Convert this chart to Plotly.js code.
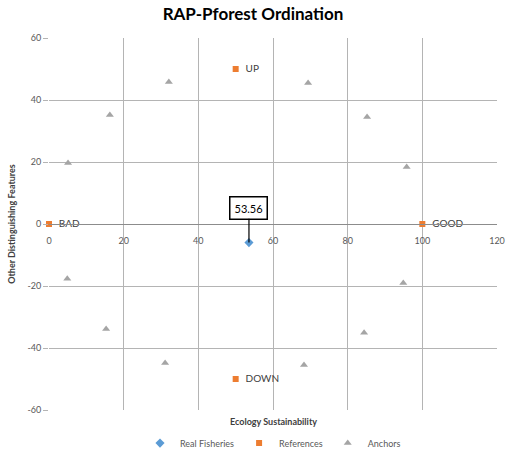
<!DOCTYPE html>
<html>
<head>
<meta charset="utf-8">
<script src="https://cdn.plot.ly/plotly-3.0.1.min.js"></script>
<style>html,body{margin:0;padding:0;background:#fff;}#chart{width:506px;height:454px;}</style>
</head>
<body>
<div id="chart"></div>
<script>
var realX = [53.56];
var realY = [-6];
var refX = [0, 100, 50, 50];
var refY = [0, 0, 50, -50];
var refLabels = ['BAD', 'GOOD', 'UP', 'DOWN'];
var anchorX = [32.1, 69.4, 16.3, 85.2, 5.1, 95.8, 4.9, 94.9, 15.3, 84.4, 31.1, 68.3];
var anchorY = [45.8, 45.5, 35.2, 34.5, 19.7, 18.4, -17.7, -19.0, -33.9, -35.1, -44.8, -45.5];
var xTicks = [0, 20, 40, 60, 80, 100, 120];
var yTicks = [-60, -40, -20, 0, 20, 40, 60];

var fontFam = 'Lato, "Liberation Sans", sans-serif';
var traces = [
  {x: realX, y: realY, type: 'scatter', mode: 'markers', name: 'Real Fisheries',
   marker: {symbol: 'diamond', size: 7, color: '#5b9bd5'}},
  {x: refX, y: refY, type: 'scatter', mode: 'markers+text', name: 'References', cliponaxis: false,
   text: refLabels, texttemplate: '  %{text}', textposition: 'middle right',
   textfont: {family: fontFam, size: 10, color: '#404040'},
   marker: {symbol: 'square', size: 6, color: '#ed7d31'}},
  {x: anchorX, y: anchorY, type: 'scatter', mode: 'markers', name: 'Anchors',
   marker: {symbol: 'triangle-up', size: 7, color: '#a5a5a5'}}
];

var layout = {
  width: 506, height: 454,
  margin: {l: 49, r: 9, t: 38, b: 44, autoexpand: false},
  paper_bgcolor: '#fff', plot_bgcolor: '#fff',
  font: {family: fontFam, size: 9, color: '#595959'},
  title: {text: '<b>RAP-Pforest Ordination</b>', x: 0.5, xanchor: 'center', y: 0.968, yanchor: 'middle',
          font: {family: fontFam, size: 17, color: '#000'}},
  showlegend: true,
  legend: {orientation: 'h', x: 0.5, xanchor: 'center', y: -0.089, yanchor: 'middle',
           font: {family: fontFam, size: 9, color: '#595959'}, itemwidth: 30, tracegroupgap: 0},
  xaxis: {range: [0, 120], tickvals: xTicks, ticktext: xTicks.map(String),
          anchor: 'free', position: 0.5, showline: true, linecolor: '#8c8c8c', linewidth: 1,
          showgrid: true, gridcolor: '#b4b4b4', gridwidth: 1, zeroline: false,
          ticks: '', ticklabelstandoff: 8, tickfont: {family: fontFam, size: 9, color: '#595959'},
          fixedrange: true},
  yaxis: {range: [-60, 60], tickvals: yTicks, ticktext: yTicks.map(String),
          showline: false, showgrid: true, gridcolor: '#b4b4b4', gridwidth: 1, zeroline: false,
          ticks: 'outside', ticklen: 5, tickcolor: '#b4b4b4',
          tickfont: {family: fontFam, size: 9, color: '#595959'},
          title: {text: '<b>Other Distinguishing Features</b>', standoff: 10,
                  font: {family: fontFam, size: 9, color: '#404040'}},
          fixedrange: true},
  annotations: [
    {xref: 'paper', yref: 'paper', x: 0.5, y: -0.032, xanchor: 'center', yanchor: 'middle',
     text: '<b>Ecology Sustainability</b>', showarrow: false,
     font: {family: fontFam, size: 9, color: '#404040'}},
    {x: realX[0], y: realY[0], xref: 'x', yref: 'y', text: realX[0].toFixed(2),
     showarrow: true, arrowhead: 0, arrowwidth: 1.2, arrowcolor: '#000', ax: 0, ay: -35,
     bordercolor: '#000', borderwidth: 1.5, borderpad: 4, bgcolor: '#fff',
     font: {family: fontFam, size: 11, color: '#000'}}
  ]
};

Plotly.newPlot('chart', traces, layout, {displayModeBar: false, staticPlot: true});
</script>
</body>
</html>
